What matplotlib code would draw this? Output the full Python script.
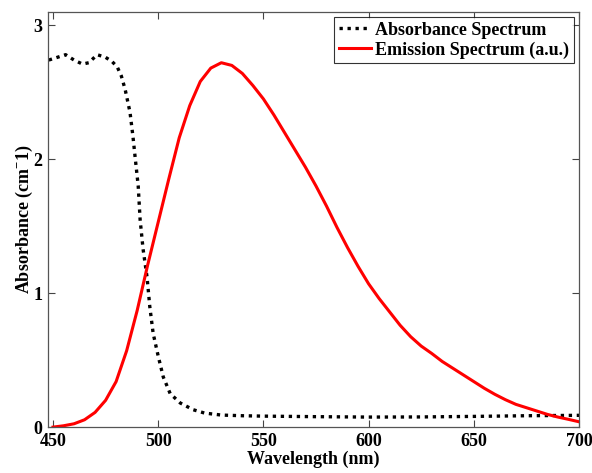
import matplotlib
matplotlib.use("Agg")
import matplotlib.pyplot as plt

# absorbance spectrum (cm^-1)
abs_nm = [448, 452, 456, 460, 464, 467, 471, 475, 478, 480.5, 482.5, 484.3, 486.6,
          488, 489, 490.5, 491.4, 492.8, 494.7, 496, 497.6, 500, 502.4, 505.7,
          510.5, 516.6, 522, 530, 540, 550, 575, 600, 625, 650, 675, 700]
abs_val = [2.74, 2.76, 2.78, 2.74, 2.71, 2.72, 2.78, 2.76, 2.73, 2.69, 2.62, 2.52, 2.35,
           2.17, 2.02, 1.80, 1.55, 1.33, 1.12, 0.90, 0.70, 0.53, 0.375, 0.25,
           0.18, 0.13, 0.105, 0.09, 0.085, 0.082, 0.078, 0.075, 0.076, 0.08, 0.085, 0.088]

# emission spectrum (a.u.)
em_nm = list(range(450, 701, 5))
em_val = [0.0, 0.01, 0.025, 0.055, 0.11, 0.2, 0.34, 0.57, 0.87, 1.21, 1.53, 1.85, 2.16,
          2.40, 2.58, 2.68, 2.72, 2.70, 2.64, 2.55, 2.45, 2.33, 2.2, 2.07, 1.94, 1.80,
          1.65, 1.49, 1.34, 1.20, 1.07, 0.96, 0.86, 0.76, 0.675, 0.605, 0.55, 0.49,
          0.44, 0.39, 0.34, 0.29, 0.245, 0.205, 0.17, 0.145, 0.12, 0.095, 0.075,
          0.058, 0.04]

plt.rcParams['font.family'] = ['Liberation Serif', 'DejaVu Serif']
plt.rcParams['font.weight'] = 'bold'
plt.rcParams['mathtext.default'] = 'regular'

fig = plt.figure(figsize=(5.92, 4.73), dpi=100)
ax = fig.add_axes([0.081, 0.097, 0.897, 0.878])

ax.plot(abs_nm, abs_val, color='black', lw=2.4, linestyle=(0, (1, 1.4)),
        dash_capstyle='butt', label='Absorbance Spectrum')
ax.plot(em_nm, em_val, color='red', lw=2.2, solid_joinstyle='round',
        label='Emission Spectrum (a.u.)')

ax.set_xlim(447.6, 700)
ax.set_ylim(0, 3.1)
ax.set_xticks([450, 500, 550, 600, 650, 700])
ax.set_yticks([0, 1, 2, 3])
ax.tick_params(direction='in', top=True, right=True, length=5, width=0.8,
               labelsize=13, pad=4, color='#444444')
for s in ax.spines.values():
    s.set_color('#555555')
    s.set_linewidth(0.9)

ax.set_xlabel('Wavelength (nm)', fontsize=13, fontweight='bold', labelpad=1)
ax.set_ylabel('Absorbance (cm$^{-}$1)', fontsize=13, fontweight='bold', labelpad=-1)

leg = ax.legend(loc='upper right', fontsize=13, frameon=True, fancybox=False,
                edgecolor='black', handlelength=1.8, borderpad=0.25,
                labelspacing=0.15, handletextpad=0.2, borderaxespad=0.3)
leg.get_frame().set_linewidth(0.8)

fig.savefig('out.png', dpi=100)
